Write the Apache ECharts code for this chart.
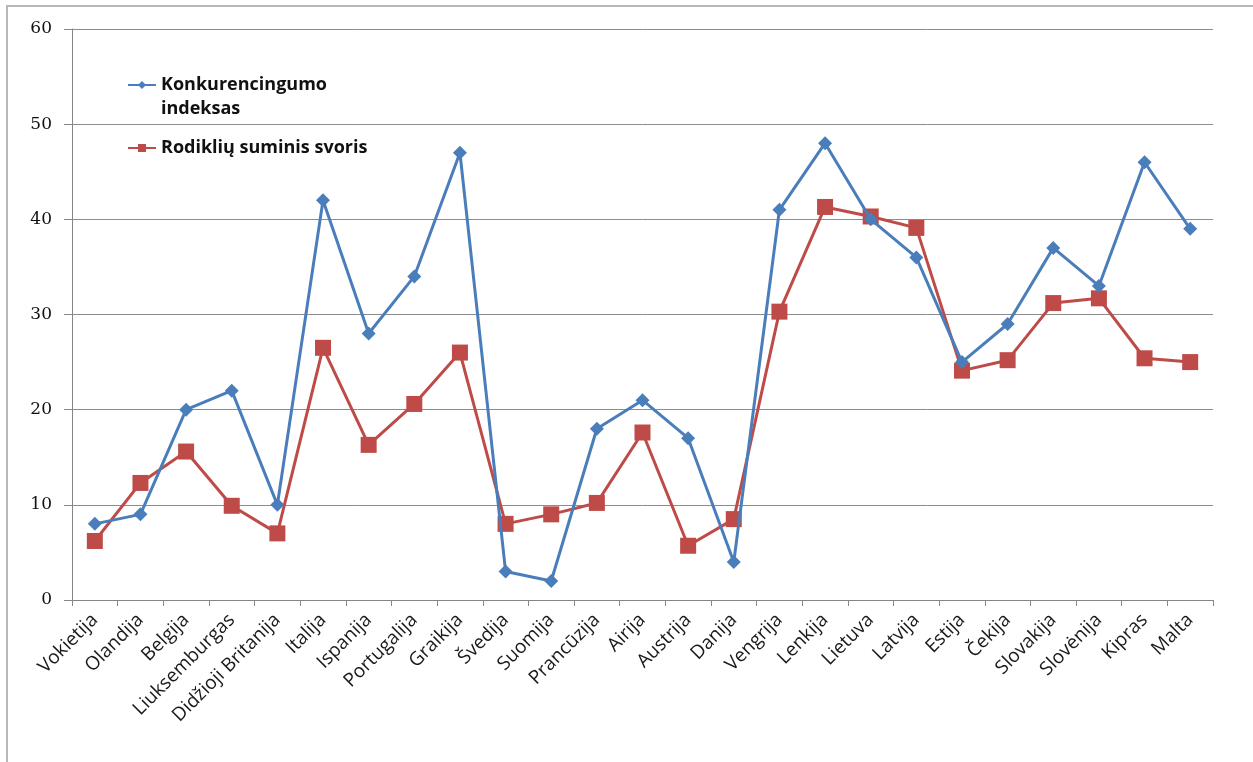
<!DOCTYPE html>
<html>
<head>
<meta charset="utf-8">
<style>
  html, body { margin: 0; padding: 0; background: #fff; }
  #chart { width: 1253px; height: 762px; }
</style>
<script src="https://cdn.jsdelivr.net/npm/echarts@6/dist/echarts.min.js"></script>
</head>
<body>
<div id="chart"></div>
<script>
// Countries along the horizontal axis
const countries = [
  'Vokietija', 'Olandija', 'Belgija', 'Liuksemburgas', 'Didžioji Britanija',
  'Italija', 'Ispanija', 'Portugalija', 'Graikija', 'Švedija', 'Suomija',
  'Prancūzija', 'Airija', 'Austrija', 'Danija', 'Vengrija', 'Lenkija',
  'Lietuva', 'Latvija', 'Estija', 'Čekija', 'Slovakija', 'Slovėnija',
  'Kipras', 'Malta'
];

// Competitiveness index
const konkurencingumoIndeksas = [
  8, 9, 20, 22, 10, 42, 28, 34, 47, 3, 2, 18, 21, 17, 4,
  41, 48, 40, 36, 25, 29, 37, 33, 46, 39
];

// Total weight of indicators
const rodikliuSuminisSvoris = [
  6.2, 12.3, 15.6, 9.9, 7.0, 26.5, 16.3, 20.6, 26.0, 8.0, 9.0,
  10.2, 17.6, 5.7, 8.5, 30.3, 41.3, 40.3, 39.1, 24.1, 25.2,
  31.2, 31.7, 25.4, 25.0
];

// Value axis ticks
const yTicks = { min: 0, max: 60, interval: 10 };

const seriesNames = ['Konkurencingumo indeksas', 'Rodiklių suminis svoris'];
const blue = '#4a7ebb';
const red = '#be4b48';
const labelFont = "'Open Sans', 'DejaVu Sans', sans-serif";

const chart = echarts.init(document.getElementById('chart'), null, { renderer: 'canvas' });

const legendText = {
  fontFamily: labelFont, fontSize: 18, fontWeight: 'bold', color: '#111', lineHeight: 24
};

chart.setOption({
  backgroundColor: '#ffffff',
  animation: false,
  graphic: [{
    type: 'rect',
    shape: { x: 7, y: 6, width: 1400, height: 900 },
    style: { fill: 'none', stroke: '#b8b8b8', lineWidth: 2 },
    silent: true
  }],
  grid: { left: 72, top: 29, right: 40, bottom: 162 },
  legend: [
    {
      // blank first line keeps the marker level with the first text line
      data: [seriesNames[0]],
      left: 122, top: 44,
      itemWidth: 28, itemHeight: 10,
      formatter: () => ' \nKonkurencingumo\nindeksas',
      textStyle: legendText
    },
    {
      data: [seriesNames[1]],
      left: 122, top: 131,
      itemWidth: 28, itemHeight: 10,
      textStyle: legendText
    }
  ],
  xAxis: {
    type: 'category',
    data: countries,
    boundaryGap: true,
    axisLine: { lineStyle: { color: '#868686', width: 1 } },
    axisTick: { show: true, length: 6, interval: 0, lineStyle: { color: '#868686' } },
    axisLabel: {
      interval: 0, rotate: 45, margin: 17,
      fontFamily: labelFont, fontSize: 19, color: '#1a1a1a'
    },
    splitLine: { show: false }
  },
  yAxis: {
    type: 'value',
    min: yTicks.min, max: yTicks.max, interval: yTicks.interval,
    axisLine: { show: true, lineStyle: { color: '#868686', width: 1 } },
    axisTick: { show: true, length: 8, lineStyle: { color: '#868686' } },
    axisLabel: {
      margin: 20,
      fontFamily: "'DejaVu Serif', 'Liberation Serif', serif",
      fontSize: 17, color: '#111'
    },
    splitLine: { show: true, lineStyle: { color: '#8c8c8c', width: 1 } }
  },
  series: [
    {
      name: seriesNames[0],
      type: 'line',
      data: konkurencingumoIndeksas,
      symbol: 'diamond',
      symbolSize: 14,
      lineStyle: { color: blue, width: 3 },
      itemStyle: { color: blue },
      z: 3
    },
    {
      name: seriesNames[1],
      type: 'line',
      data: rodikliuSuminisSvoris,
      symbol: 'rect',
      symbolSize: 16,
      lineStyle: { color: red, width: 3 },
      itemStyle: { color: red },
      z: 2
    }
  ]
});
</script>
</body>
</html>
